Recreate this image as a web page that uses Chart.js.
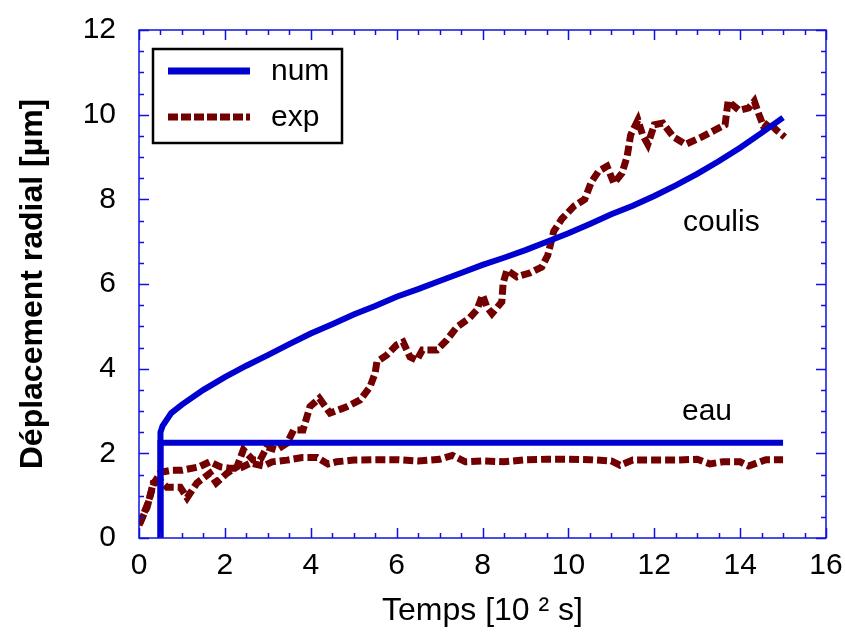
<!DOCTYPE html>
<html><head><meta charset="utf-8">
<script src="https://cdn.jsdelivr.net/npm/chart.js@4.4.0/dist/chart.umd.min.js"></script>
<style>html,body{margin:0;padding:0;background:#fff}#wrap{width:845px;height:635px}</style>
</head><body><div id="wrap"><canvas id="c" width="845" height="635"></canvas></div>
<script>
// ---- data ----
const xTicks = [0, 2, 4, 6, 8, 10, 12, 14, 16];
const yTicks = [0, 2, 4, 6, 8, 10, 12];

const numCoulisT = [0.5, 0.5, 0.55, 0.75, 1.0, 1.5, 2.0, 2.5, 3.0, 3.5, 4.0, 4.5, 5.0, 5.5, 6.0, 6.5, 7.0, 7.5, 8.0, 8.5, 9.0, 9.5, 10.0, 10.5, 11.0, 11.5, 12.0, 12.5, 13.0, 13.5, 14.0, 14.5, 15.0];
const numCoulisV = [0, 2.5, 2.65, 2.95, 3.15, 3.5, 3.8, 4.07, 4.32, 4.58, 4.83, 5.05, 5.28, 5.48, 5.7, 5.88, 6.07, 6.26, 6.45, 6.62, 6.8, 7.0, 7.2, 7.42, 7.65, 7.85, 8.08, 8.33, 8.6, 8.9, 9.22, 9.57, 9.93];

const numEauT = [0.5, 0.5, 15.0];
const numEauV = [0, 2.25, 2.25];

const expCoulisT = [0.02, 0.19, 0.26, 0.33, 0.5, 0.65, 0.96, 1.12, 1.35, 1.65, 1.8, 2.05, 2.28, 2.43, 2.66, 2.82, 2.98, 3.2, 3.45, 3.6, 3.82, 3.98, 4.2, 4.45, 4.84, 5.15, 5.38, 5.5, 5.54, 5.77, 6.0, 6.15, 6.31, 6.47, 6.6, 6.94, 7.17, 7.4, 7.7, 7.87, 8.0, 8.1, 8.22, 8.45, 8.48, 8.57, 8.8, 9.1, 9.38, 9.52, 9.66, 9.85, 10.13, 10.38, 10.53, 10.7, 10.9, 11.06, 11.25, 11.37, 11.45, 11.62, 11.73, 11.85, 12.0, 12.2, 12.45, 12.73, 13.1, 13.42, 13.65, 13.72, 13.98, 14.2, 14.33, 14.44, 14.56, 14.67, 14.84, 15.04];
const expCoulisV = [0.35, 0.73, 1.0, 1.3, 1.35, 1.2, 1.2, 0.95, 1.3, 1.53, 1.3, 1.53, 1.68, 2.08, 1.84, 1.84, 2.15, 2.08, 2.24, 2.55, 2.55, 3.1, 3.3, 2.95, 3.1, 3.26, 3.57, 3.9, 4.16, 4.32, 4.56, 4.63, 4.28, 4.2, 4.44, 4.44, 4.68, 4.98, 5.2, 5.39, 5.74, 5.46, 5.3, 5.58, 6.02, 6.33, 6.17, 6.26, 6.4, 6.68, 7.25, 7.54, 7.84, 8.0, 8.4, 8.66, 8.78, 8.38, 8.62, 9.02, 9.52, 9.87, 9.52, 9.3, 9.76, 9.8, 9.47, 9.3, 9.47, 9.64, 9.76, 10.32, 10.1, 10.16, 10.32, 10.0, 9.68, 9.82, 9.64, 9.47];

const expEauT = [0.0, 0.2, 0.35, 0.5, 0.75, 1.0, 1.4, 1.65, 1.9, 2.1, 2.35, 2.6, 2.9, 3.1, 3.45, 3.8, 4.15, 4.4, 4.6, 5.0, 5.5, 6.0, 6.5, 7.0, 7.3, 7.6, 8.0, 8.5, 9.0, 9.5, 10.0, 10.5, 11.0, 11.2, 11.5, 12.0, 12.5, 13.0, 13.3, 13.6, 14.0, 14.2, 14.6, 15.0];
const expEauV = [0.3, 0.8, 1.3, 1.55, 1.6, 1.6, 1.68, 1.8, 1.68, 1.65, 1.65, 1.77, 1.7, 1.8, 1.84, 1.9, 1.9, 1.75, 1.8, 1.84, 1.85, 1.85, 1.82, 1.86, 1.95, 1.8, 1.82, 1.8, 1.85, 1.86, 1.86, 1.85, 1.82, 1.72, 1.84, 1.84, 1.84, 1.86, 1.75, 1.8, 1.8, 1.7, 1.85, 1.85];

const legendLabels = ['num', 'exp'];
const curveLabels = ['coulis', 'eau'];

// ---- styles ----
const BLUE = '#0000D0';
const RED = '#720000';
const FRAME = '#1010E0';
const FONT = "'Liberation Sans', Arial, sans-serif";

const pts = (t, v) => t.map((x, i) => ({x: x, y: v[i]}));

const framePlugin = {
  id: 'frame',
  afterDatasetsDraw(chart) {
    const {ctx, chartArea: a, scales: {x, y}} = chart;
    ctx.save();
    ctx.strokeStyle = FRAME;
    ctx.lineWidth = 1.5;
    ctx.strokeRect(a.left, a.top, a.right - a.left, a.bottom - a.top);
    ctx.beginPath();
    for (let v = 0; v <= 16.001; v += 0.5) {
      const px = Math.round(x.getPixelForValue(v)) + 0.5;
      const L = (Math.abs(v - Math.round(v / 2) * 2) < 1e-6) ? 10 : 5;
      ctx.moveTo(px, a.bottom); ctx.lineTo(px, a.bottom - L);
      ctx.moveTo(px, a.top); ctx.lineTo(px, a.top + L);
    }
    for (let v = 0; v <= 12.001; v += 0.5) {
      const py = Math.round(y.getPixelForValue(v)) + 0.5;
      const L = (Math.abs(v - Math.round(v / 2) * 2) < 1e-6) ? 10 : 5;
      ctx.moveTo(a.left, py); ctx.lineTo(a.left + L, py);
      ctx.moveTo(a.right, py); ctx.lineTo(a.right - L, py);
    }
    ctx.stroke();
    ctx.restore();
  },
  afterDraw(chart) {
    const {ctx} = chart;
    ctx.save();
    // legend box
    ctx.fillStyle = '#fff';
    ctx.fillRect(153, 49, 189, 94);
    ctx.strokeStyle = '#000';
    ctx.lineWidth = 2.5;
    ctx.strokeRect(153, 49, 189, 94);
    ctx.lineWidth = 7;
    ctx.strokeStyle = BLUE;
    ctx.beginPath(); ctx.moveTo(168, 71); ctx.lineTo(250, 71); ctx.stroke();
    ctx.strokeStyle = RED;
    ctx.setLineDash([10, 3]);
    ctx.beginPath(); ctx.moveTo(168, 117); ctx.lineTo(250, 117); ctx.stroke();
    ctx.setLineDash([]);
    ctx.fillStyle = '#000';
    ctx.font = '30px ' + FONT;
    ctx.textBaseline = 'alphabetic';
    ctx.textAlign = 'left';
    ctx.fillText(legendLabels[0], 271, 80);
    ctx.fillText(legendLabels[1], 271, 126);
    ctx.fillText(curveLabels[0], 683, 231);
    ctx.fillText(curveLabels[1], 682, 420);
    ctx.restore();
  }
};

new Chart(document.getElementById('c'), {
  type: 'scatter',
  data: {
    datasets: [
      {label: 'num', data: pts(numCoulisT, numCoulisV), showLine: true, borderColor: BLUE, borderWidth: 6, pointRadius: 0, tension: 0},
      {label: 'num', data: pts(numEauT, numEauV), showLine: true, borderColor: BLUE, borderWidth: 6, pointRadius: 0, tension: 0},
      {label: 'exp', data: pts(expCoulisT, expCoulisV), showLine: true, borderColor: RED, borderWidth: 7, borderDash: [10, 4], pointRadius: 0, tension: 0},
      {label: 'exp', data: pts(expEauT, expEauV), showLine: true, borderColor: RED, borderWidth: 7, borderDash: [10, 4], pointRadius: 0, tension: 0}
    ]
  },
  options: {
    responsive: false,
    animation: false,
    devicePixelRatio: 1,
    layout: {padding: {top: 30, right: 19, left: 0, bottom: 0}},
    plugins: {legend: {display: false}, tooltip: {enabled: false}},
    scales: {
      x: {
        type: 'linear', min: 0, max: 16,
        afterBuildTicks: s => { s.ticks = xTicks.map(v => ({value: v})); },
        afterFit: s => { s.height = 97; s.paddingLeft = 0; s.paddingRight = 0; },
        grid: {display: false, drawTicks: false},
        border: {display: false},
        ticks: {color: '#000', font: {family: FONT, size: 30}, padding: 10, maxRotation: 0, autoSkip: false},
        title: {display: true, text: 'Temps [10 \u00B2 s]', color: '#000', font: {family: FONT, size: 32}, padding: {top: 0, bottom: 5}}
      },
      y: {
        type: 'linear', min: 0, max: 12,
        afterBuildTicks: s => { s.ticks = yTicks.map(v => ({value: v})); },
        afterFit: s => { s.width = 139; s.paddingTop = 0; s.paddingBottom = 0; },
        grid: {display: false, drawTicks: false},
        border: {display: false},
        ticks: {color: '#000', font: {family: FONT, size: 30}, padding: 23, autoSkip: false},
        title: {display: true, text: 'Déplacement radial [µm]', color: '#000', font: {family: FONT, size: 32, weight: 'bold'}, padding: {top: 14, bottom: 0}}
      }
    }
  },
  plugins: [framePlugin]
});
</script></body></html>
